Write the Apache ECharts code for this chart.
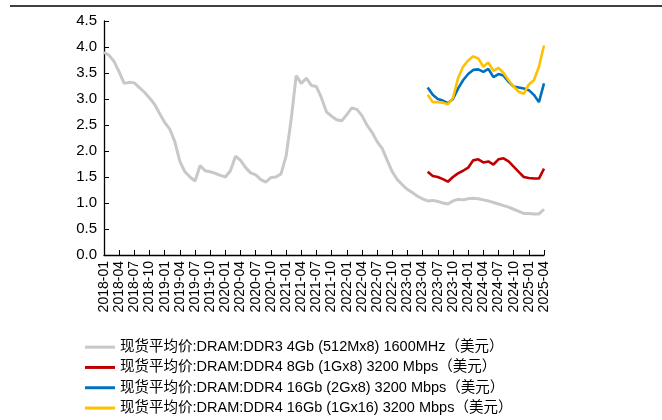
<!DOCTYPE html>
<html>
<head>
<meta charset="utf-8">
<script src="https://cdn.jsdelivr.net/npm/echarts@6/dist/echarts.min.js"></script>
<style>html,body{margin:0;padding:0;background:#fff}#c{width:662px;height:420px}</style>
</head>
<body>
<div id="c"></div>
<script>
// months 2018-01 .. 2025-04
var months = [];
for (var y = 2018; y <= 2025; y++) {
  for (var m = 1; m <= 12; m++) {
    if (y === 2025 && m > 4) break;
    months.push(y + '-' + (m < 10 ? '0' + m : m));
  }
}
var yTicks = [0, 0.5, 1.0, 1.5, 2.0, 2.5, 3.0, 3.5, 4.0, 4.5];
var names = [
  '现货平均价:DRAM:DDR3 4Gb (512Mx8) 1600MHz（美元）',
  '现货平均价:DRAM:DDR4 8Gb (1Gx8) 3200 Mbps（美元）',
  '现货平均价:DRAM:DDR4 16Gb (2Gx8) 3200 Mbps（美元）',
  '现货平均价:DRAM:DDR4 16Gb (1Gx16) 3200 Mbps（美元）'
];
var ddr3_4gb = [3.90,3.84,3.72,3.52,3.30,3.32,3.31,3.22,3.13,3.02,2.90,2.72,
  2.55,2.42,2.18,1.80,1.60,1.50,1.42,1.72,1.62,1.60,1.57,1.53,
  1.50,1.62,1.90,1.82,1.68,1.58,1.54,1.45,1.40,1.49,1.50,1.56,
  1.90,2.60,3.45,3.30,3.40,3.26,3.24,3.02,2.75,2.67,2.60,2.58,
  2.70,2.83,2.80,2.68,2.50,2.36,2.18,2.05,1.82,1.60,1.45,1.35,
  1.26,1.20,1.13,1.08,1.04,1.05,1.03,1.00,0.98,1.04,1.07,1.06,
  1.08,1.09,1.08,1.06,1.04,1.01,0.98,0.95,0.92,0.88,0.84,0.80,
  0.80,0.79,0.79,0.88];
var ddr4_8gb_tail = [1.60,1.52,1.50,1.46,1.41,1.50,1.57,1.62,1.68,1.82,1.84,1.78,1.80,1.74,1.84,1.86,1.80,1.70,1.60,1.50,1.48,1.47,1.47,1.66];
var ddr4_16gb_2gx8_tail = [3.22,3.08,3.00,2.97,2.92,3.00,3.20,3.36,3.48,3.56,3.57,3.52,3.58,3.42,3.48,3.45,3.33,3.24,3.22,3.20,3.17,3.08,2.94,3.30];
var ddr4_16gb_1gx16_tail = [3.08,2.94,2.94,2.93,2.90,3.02,3.40,3.62,3.74,3.82,3.78,3.62,3.70,3.54,3.60,3.50,3.36,3.24,3.14,3.10,3.28,3.36,3.62,4.03];

function pad(tail) {
  var out = [];
  for (var i = 0; i < months.length - tail.length; i++) out.push(null);
  return out.concat(tail);
}
var colors = ['#c8c8c8', '#c00000', '#0070c0', '#ffc000'];
var widths = [3, 2.6, 2.6, 2.6];
var seriesData = [ddr3_4gb, pad(ddr4_8gb_tail), pad(ddr4_16gb_2gx8_tail), pad(ddr4_16gb_1gx16_tail)];
var font = 'Liberation Sans, Arial, Noto Sans CJK SC, sans-serif';

var chart = echarts.init(document.getElementById('c'), null, {renderer: 'canvas'});
chart.setOption({
  animation: false,
  backgroundColor: '#fff',
  textStyle: {fontFamily: font},
  graphic: [{
    type: 'line', shape: {x1: 10, y1: 6, x2: 662, y2: 6},
    style: {stroke: '#000', lineWidth: 1.5}
  }],
  grid: {left: 104, right: 118, top: 21, bottom: 165, containLabel: false},
  legend: {
    orient: 'vertical', left: 85, top: 339, height: 200, width: 570,
    itemWidth: 30, itemHeight: 3, itemGap: 4, icon: 'rect', padding: 0,
    textStyle: {fontSize: 14.5, lineHeight: 16.3, color: '#000', fontFamily: font, padding: [0,0,0,0]},
    data: names
  },
  xAxis: {
    type: 'category', data: months, boundaryGap: false,
    axisLine: {lineStyle: {color: '#000', width: 1.3}},
    axisTick: {inside: true, length: 5, interval: 2, lineStyle: {color: '#000'}},
    axisLabel: {interval: 2, rotate: 90, fontSize: 14, color: '#000', margin: 6, fontFamily: font},
    splitLine: {show: false}
  },
  yAxis: {
    type: 'value', min: 0, max: 4.5, interval: 0.5,
    axisLine: {show: true, lineStyle: {color: '#000', width: 1.3}},
    axisTick: {show: true, inside: true, length: 5, lineStyle: {color: '#000'}},
    axisLabel: {fontSize: 15, color: '#000', margin: 7, fontFamily: font,
      formatter: function (v) { return v.toFixed(1); }},
    splitLine: {show: false}
  },
  series: seriesData.map(function (d, i) {
    return {
      name: names[i], type: 'line', data: d, showSymbol: false, symbol: 'none',
      connectNulls: false,
      lineStyle: {color: colors[i], width: widths[i]},
      itemStyle: {color: colors[i]}
    };
  })
});
</script>
</body>
</html>
